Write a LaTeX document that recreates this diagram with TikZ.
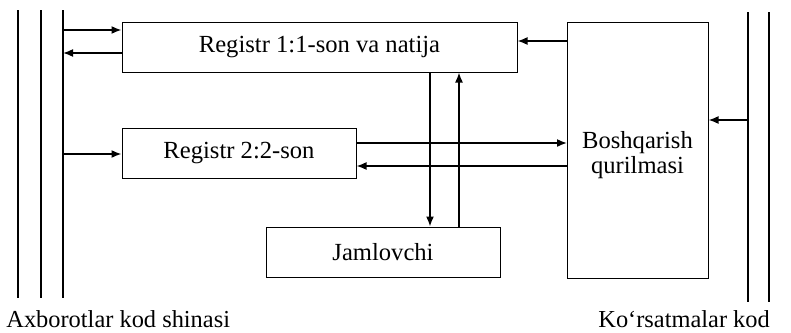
\documentclass[tikz,border=0pt]{standalone}
\usepackage{fontspec}
\setmainfont{Liberation Serif}
\usetikzlibrary{arrows.meta}
\begin{document}
\begin{tikzpicture}[x=0.5pt,y=-0.5pt,
  box/.style={draw,line width=0.5pt,inner sep=0pt},
  txt/.style={inner sep=0pt,font=\fontsize{12.3}{12.5}\selectfont,align=center},
  arr/.style={line width=0.8pt,-{Latex[length=5pt,width=4pt]}},
  bus/.style={line width=1.1pt},
  lbl/.style={font=\fontsize{12.2}{14}\selectfont,inner sep=0pt,anchor=base west}]
\useasboundingbox (0,0) rectangle (791,332);
% bus lines
\coordinate (l1t) at (18,10);  \coordinate (l1b) at (18,298);
\coordinate (l2t) at (41,10);  \coordinate (l2b) at (41,298);
\coordinate (l3t) at (63,10);  \coordinate (l3b) at (63,298);
\coordinate (r1t) at (748,12); \coordinate (r1b) at (748,302);
\coordinate (r2t) at (769,12); \coordinate (r2b) at (769,302);
\draw[bus] (l1t) -- (l1b);
\draw[bus] (l2t) -- (l2b);
\draw[bus] (l3t) -- (l3b);
\draw[bus] (r1t) -- (r1b);
\draw[bus] (r2t) -- (r2b);
% boxes
\node[box,txt,minimum width=197.5pt,minimum height=25pt] (reg1) at (319.5,47) {Registr 1:1-son va natija};
\node[box,txt,minimum width=117pt,minimum height=25pt] (reg2) at (239,153) {Registr 2:2-son};
\node[box,txt,minimum width=117pt,minimum height=25pt] (jam) at (383,252) {Jamlovchi};
\node[box,minimum width=70.5pt,minimum height=128pt] (bosh) at (637.5,150) {};
\node[txt,anchor=base] (boshtxt) at (637.5,173) {Boshqarish\\qurilmasi};
% connector coordinates
\coordinate (a1) at (63,30);
\coordinate (a2) at (63,53);
\coordinate (a3) at (63,154);
\coordinate (b1) at (567,41);
\coordinate (b2) at (567,143);
\coordinate (b3) at (567,166);
\coordinate (c1) at (748,120);
\coordinate (d1) at (430,72);
\coordinate (d2) at (459,227);
% connectors
\draw[arr] (a1) -- (a1 -| reg1.west);
\draw[arr] (a2 -| reg1.west) -- (a2);
\draw[arr] (a3) -- (a3 -| reg2.west);
\draw[arr] (b1) -- (b1 -| reg1.east);
\draw[arr] (b2 -| reg2.east) -- (b2);
\draw[arr] (b3) -- (b3 -| reg2.east);
\draw[arr] (c1) -- (c1 -| bosh.east);
\draw[arr] (d1) -- (d1 |- jam.north);
\draw[arr] (d2) -- (d2 |- reg1.south);
% labels
\node[lbl] (lab1) at (6,327) {Axborotlar kod shinasi};
\node[lbl] (lab2) at (598,327) {Ko‘rsatmalar kod};
\end{tikzpicture}
\end{document}
